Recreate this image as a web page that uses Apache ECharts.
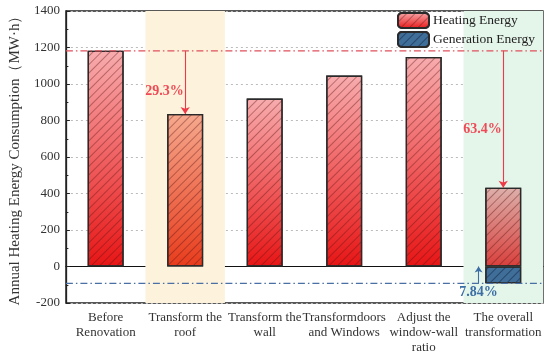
<!DOCTYPE html>
<html><head><meta charset="utf-8">
<script src="https://cdn.jsdelivr.net/npm/echarts@6/dist/echarts.min.js"></script>
<style>html,body{margin:0;padding:0;background:#fff}#c{width:550px;height:358px}</style>
</head><body><div id="c"></div>
<script>
// ---- data ----
const categories = ['Before\nRenovation', 'Transform the\nroof', 'Transform the\nwall', 'Transformdoors\nand Windows', 'Adjust the\nwindow-wall\nratio', 'The overall\ntransformation'];
const heating = [1182, 836, 920, 1046, 1148, 432];
const generation = [null, null, null, null, null, -92];
const yMin = -200, yMax = 1400, yInterval = 200;
const baselineValue = 1182;
const generationLineValue = -92;
const reductionLabels = ['29.3%', '63.4%', '7.84%'];
const seriesNames = ['Heating Energy', 'Generation Energy'];

// ---- styles ----
const FONT = "'Liberation Serif','Times New Roman',serif";
const grad = (a, b) => new echarts.graphic.LinearGradient(0, 0, 0, 1, [{offset: 0, color: a}, {offset: 1, color: b}]);
const hatch = c => ({symbol: 'rect', symbolSize: 1, color: c, dashArrayX: [[1, 0]], dashArrayY: [1, 5], rotation: -Math.PI / 4});
const redHatch = hatch('rgba(90,20,20,0.4)');
const blueHatch = hatch('rgba(10,20,50,0.45)');
const heatColors = [
  grad('#f8acae', '#e81515'),
  grad('#f6a98e', '#e83c1c'),
  grad('#f8acae', '#e81515'),
  grad('#f8acae', '#e81515'),
  grad('#f8acae', '#e81515'),
  grad('#ddb0ab', '#d9403c')
];
const heatData = heating.map((v, i) => ({value: v, itemStyle: {color: heatColors[i], decal: redHatch}}));
const genData = generation.map(v => (v == null ? null : {value: v, itemStyle: {decal: blueHatch}}));

const arrowStyle = c => ({color: c, width: 1.1, type: 'solid', opacity: 1});
const refLine = (name, v, c) => ({
  name, type: 'line', xAxisIndex: 1, data: [[0, v], [6, v]], symbol: 'none', silent: true, z: 5,
  color: c, lineStyle: {color: c, width: 1.3, type: [7, 3, 1.5, 3]}
});

const chart = echarts.init(document.getElementById('c'), null, {renderer: 'canvas'});
chart.setOption({
  animation: false,
  backgroundColor: '#fff',
  textStyle: {fontFamily: FONT},
  grid: {left: 60, right: 7, top: 11, bottom: 55, show: true, borderColor: '#222', borderWidth: 1.3, backgroundColor: 'transparent'},
  legend: {
    orient: 'vertical', left: 397, top: 12, itemGap: 2, itemWidth: 31, itemHeight: 15, padding: 0,
    textStyle: {fontFamily: FONT, fontSize: 13.5, color: '#222', padding: [0, 0, 0, -1]},
    data: seriesNames
  },
  xAxis: [{
    type: 'category', data: categories,
    axisLine: {onZero: true, lineStyle: {color: '#111', width: 1.2}},
    axisTick: {show: false},
    axisLabel: {fontFamily: FONT, fontSize: 13, color: '#333', lineHeight: 15, margin: 7, interval: 0},
    splitLine: {show: false}
  }, {
    type: 'value', min: 0, max: 6, show: false
  }],
  yAxis: {
    type: 'value', min: yMin, max: yMax, interval: yInterval,
    name: 'Annual Heating Energy Consumption（MW·h）',
    nameLocation: 'middle', nameGap: 36,
    nameTextStyle: {fontFamily: FONT, fontSize: 15, color: '#333'},
    axisLine: {show: true, lineStyle: {color: '#222', width: 1.3}},
    axisTick: {inside: true, length: 4, lineStyle: {color: '#222'}},
    minorTick: {show: true, splitNumber: 2, length: 2.5, lineStyle: {color: '#222'}},
    axisLabel: {fontFamily: FONT, fontSize: 13, color: '#333', margin: 6, formatter: v => String(v)},
    splitLine: {show: true, lineStyle: {color: '#bbb', type: [2, 3], width: 1}}
  },
  series: [
    {
      name: 'annot', type: 'line', xAxisIndex: 1, data: [], silent: true, z: 1,
      markArea: {
        silent: true,
        data: [
          [{coord: [1, yMin], itemStyle: {color: '#fdf3dc'}}, {coord: [2, yMax], itemStyle: {color: '#fdf3dc'}}],
          [{coord: [5, yMin], itemStyle: {color: '#e4f5ea'}}, {coord: [6, yMax], itemStyle: {color: '#e4f5ea'}}]
        ]
      }
    },
    {
      name: seriesNames[0], type: 'bar', stack: 't', barWidth: 36, data: heatData, z: 3,
      itemStyle: {color: grad('#f8acae', '#e81515'), borderColor: '#2a2a2a', borderWidth: 1.3, decal: redHatch}
    },
    {
      name: seriesNames[1], type: 'bar', stack: 't', barWidth: 36, data: genData, z: 3,
      itemStyle: {color: '#3f6e99', borderColor: '#2a2a2a', borderWidth: 1.3, decal: blueHatch}
    },
    refLine('redline', baselineValue, '#e0505c'),
    refLine('blueline', generationLineValue, '#4a6fa5'),
    {
      name: 'annot2', type: 'line', xAxisIndex: 1, data: [], silent: true, z: 6,
      markLine: {
        silent: true, animation: false,
        label: {show: false},
        data: [
          [{coord: [1.5, baselineValue], symbol: 'none', lineStyle: arrowStyle('#ee3a48')}, {coord: [1.5, heating[1]], symbol: 'arrow', symbolSize: 7, lineStyle: arrowStyle('#ee3a48'), itemStyle: {color: '#ee3a48'}}],
          [{coord: [5.5, baselineValue], symbol: 'none', lineStyle: arrowStyle('#ee3a48')}, {coord: [5.5, heating[5]], symbol: 'arrow', symbolSize: 7, lineStyle: arrowStyle('#ee3a48'), itemStyle: {color: '#ee3a48'}}],
          [{coord: [5.19, generationLineValue], symbol: 'none', lineStyle: arrowStyle('#3b6ea5')}, {coord: [5.19, 0], symbol: 'arrow', symbolSize: 6, lineStyle: arrowStyle('#3b6ea5'), itemStyle: {color: '#3b6ea5'}}]
        ]
      },
      markPoint: {
        silent: true, symbol: 'circle', symbolSize: 0,
        label: {show: true, fontFamily: FONT, fontSize: 14, fontWeight: 'bold', position: 'inside'},
        data: [
          {coord: [1.24, 957], value: reductionLabels[0], label: {formatter: reductionLabels[0], color: '#ef4a56'}},
          {coord: [5.24, 750], value: reductionLabels[1], label: {formatter: reductionLabels[1], color: '#ef4a56'}},
          {coord: [5.19, -142], value: reductionLabels[2], label: {formatter: reductionLabels[2], color: '#3b6ea5'}}
        ]
      }
    }
  ]
});
</script></body></html>
